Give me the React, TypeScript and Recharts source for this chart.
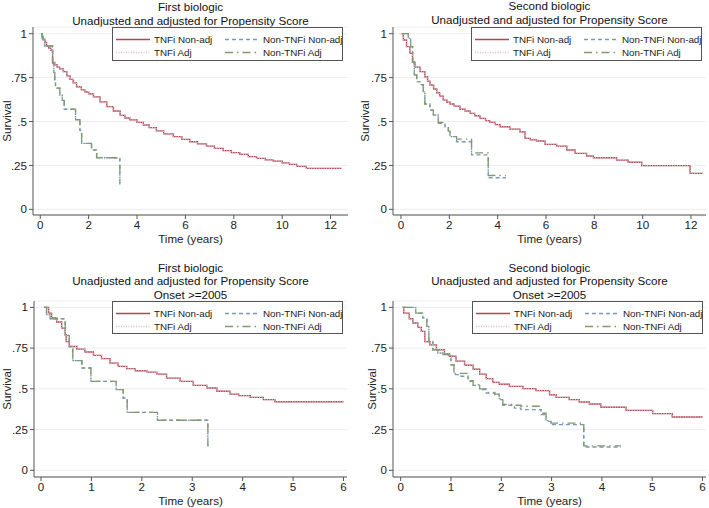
import { LineChart, Line, XAxis, YAxis, CartesianGrid, Legend } from "recharts";

type Pt = [number, number];

// Kaplan-Meier step points: [time (years), survival]
const P1_TNFI: Pt[] = [
  [0.03, 1], [0.08, 0.985], [0.12, 0.965], [0.2, 0.95], [0.26, 0.93], [0.35, 0.918],
  [0.43, 0.907], [0.51, 0.837], [0.6, 0.822], [0.7, 0.81], [0.8, 0.8], [0.95, 0.784],
  [1.1, 0.76], [1.23, 0.74], [1.36, 0.72], [1.5, 0.698], [1.7, 0.68], [1.85, 0.668],
  [2.0, 0.658], [2.2, 0.64], [2.47, 0.612], [2.75, 0.585], [3.02, 0.56], [3.3, 0.535],
  [3.5, 0.52], [3.7, 0.509], [4.0, 0.495], [4.26, 0.48], [4.5, 0.465], [4.8, 0.447],
  [5.1, 0.43], [5.5, 0.414], [5.85, 0.398], [6.18, 0.385], [6.5, 0.373], [6.87, 0.36],
  [7.2, 0.347], [7.56, 0.334], [7.9, 0.323], [8.25, 0.313], [8.6, 0.3], [8.94, 0.29],
  [9.3, 0.282], [9.63, 0.275], [10.0, 0.265], [10.3, 0.256], [10.6, 0.245], [11.0, 0.233],
  [12.45, 0.233],
];
const P1_NON: Pt[] = [
  [0.03, 1], [0.08, 0.97], [0.18, 0.93], [0.51, 0.83], [0.56, 0.78], [0.6, 0.72],
  [0.63, 0.69], [0.81, 0.65], [0.91, 0.62], [0.99, 0.57], [1.46, 0.51], [1.64, 0.45],
  [1.71, 0.376], [2.12, 0.338], [2.33, 0.294], [3.29, 0.142],
];

const P2_TNFI: Pt[] = [
  [0.02, 1], [0.1, 0.964], [0.23, 0.926], [0.37, 0.888], [0.48, 0.837], [0.58, 0.81],
  [0.79, 0.784], [0.99, 0.755], [1.1, 0.73], [1.2, 0.708], [1.35, 0.685], [1.48, 0.664],
  [1.6, 0.645], [1.75, 0.622], [1.9, 0.61], [2.03, 0.6], [2.2, 0.588], [2.44, 0.57],
  [2.65, 0.56], [2.86, 0.546], [3.05, 0.533], [3.27, 0.518], [3.5, 0.505], [3.68, 0.495],
  [3.9, 0.482], [4.1, 0.47], [4.5, 0.457], [4.92, 0.442], [5.13, 0.404], [5.35, 0.396],
  [5.61, 0.389], [5.96, 0.37], [6.44, 0.36], [6.86, 0.338], [7.2, 0.319], [7.68, 0.304],
  [7.96, 0.294], [8.92, 0.28], [9.4, 0.268], [9.96, 0.249], [11.96, 0.205], [12.5, 0.205],
];
const P2_NON: Pt[] = [
  [0.03, 1], [0.3, 0.973], [0.4, 0.926], [0.48, 0.84], [0.55, 0.765], [0.65, 0.727],
  [0.79, 0.71], [0.92, 0.67], [0.99, 0.6], [1.2, 0.565], [1.34, 0.537], [1.54, 0.49],
  [1.82, 0.47], [1.96, 0.442], [2.03, 0.414], [2.3, 0.385], [2.92, 0.31], [3.61, 0.18],
  [4.34, 0.18],
];
const P2_NON_ADJ: Pt[] = [
  [0.03, 1], [0.3, 0.973], [0.4, 0.926], [0.48, 0.84], [0.55, 0.765], [0.65, 0.727],
  [0.79, 0.71], [0.92, 0.67], [0.99, 0.6], [1.2, 0.565], [1.34, 0.537], [1.54, 0.495],
  [1.82, 0.475], [1.96, 0.445], [2.03, 0.414], [2.3, 0.4], [2.92, 0.322], [3.61, 0.193],
  [4.34, 0.193],
];

const P3_TNFI: Pt[] = [
  [0.06, 1], [0.15, 0.965], [0.21, 0.935], [0.31, 0.91], [0.41, 0.873], [0.48, 0.832],
  [0.5, 0.79], [0.56, 0.76], [0.71, 0.744], [0.87, 0.726], [1.04, 0.705], [1.2, 0.685],
  [1.37, 0.658], [1.53, 0.638], [1.7, 0.624], [1.87, 0.611], [2.1, 0.603], [2.3, 0.59],
  [2.49, 0.566], [2.76, 0.546], [3.02, 0.521], [3.29, 0.505], [3.49, 0.485], [3.75, 0.468],
  [3.92, 0.458], [4.15, 0.448], [4.41, 0.434], [4.64, 0.421], [6.0, 0.421],
];
const P3_NON: Pt[] = [
  [0.06, 1], [0.11, 0.955], [0.18, 0.93], [0.48, 0.828], [0.56, 0.76], [0.63, 0.673],
  [0.81, 0.628], [0.99, 0.546], [1.49, 0.495], [1.63, 0.444], [1.71, 0.356], [2.31, 0.307],
  [3.31, 0.147],
];

const P4_TNFI: Pt[] = [
  [0.03, 1], [0.06, 0.965], [0.17, 0.93], [0.24, 0.904], [0.34, 0.877], [0.41, 0.853],
  [0.48, 0.79], [0.58, 0.77], [0.71, 0.74], [0.87, 0.715], [0.97, 0.7], [1.1, 0.67],
  [1.27, 0.645], [1.44, 0.62], [1.57, 0.59], [1.7, 0.563], [1.83, 0.54], [1.96, 0.528],
  [2.16, 0.515], [2.43, 0.501], [2.69, 0.489], [2.96, 0.464], [3.09, 0.448], [3.35, 0.434],
  [3.55, 0.419], [3.75, 0.407], [3.98, 0.387], [4.48, 0.368], [5.01, 0.348], [5.4, 0.327],
  [6.0, 0.327],
];
const P4_NON: Pt[] = [
  [0.05, 1], [0.3, 0.965], [0.44, 0.935], [0.52, 0.883], [0.56, 0.79], [0.64, 0.74],
  [0.74, 0.72], [0.84, 0.71], [0.97, 0.69], [1.0, 0.648], [1.06, 0.587], [1.2, 0.577],
  [1.34, 0.546], [1.44, 0.521], [1.57, 0.495], [1.7, 0.474], [1.87, 0.464], [1.96, 0.434],
  [2.03, 0.399], [2.26, 0.382], [2.39, 0.372], [2.79, 0.342], [2.89, 0.3], [2.99, 0.28],
  [3.64, 0.143], [4.38, 0.143],
];
const P4_NON_ADJ: Pt[] = [
  [0.05, 1], [0.3, 0.965], [0.44, 0.935], [0.52, 0.883], [0.56, 0.79], [0.64, 0.74],
  [0.74, 0.72], [0.84, 0.71], [0.97, 0.69], [1.0, 0.648], [1.06, 0.595], [1.2, 0.595],
  [1.34, 0.55], [1.44, 0.525], [1.57, 0.5], [1.7, 0.478], [1.87, 0.468], [1.96, 0.44],
  [2.03, 0.405], [2.26, 0.399], [2.39, 0.393], [2.79, 0.35], [2.89, 0.305], [2.99, 0.29],
  [3.64, 0.15], [4.38, 0.15],
];

const Y_TICKS = [0, 0.25, 0.5, 0.75, 1];
const X_TICKS_LONG = [0, 2, 4, 6, 8, 10, 12];
const X_TICKS_SHORT = [0, 1, 2, 3, 4, 5, 6];
const TITLE_MAIN = "Unadjusted and adjusted for Propensity Score";
const TITLE_ONSET = "Onset >=2005";

const FONT = '"Liberation Sans", Arial, Helvetica, sans-serif';
const SERIES = [
  { key: "tnfi", name: "TNFi Non-adj", color: "#b04555", dash: undefined },
  { key: "non", name: "Non-TNFi Non-adj", color: "#7d98b0", dash: "4 3" },
  { key: "tnfiAdj", name: "TNFi Adj", color: "#e2bcc2", dash: "1 1.5" },
  { key: "nonAdj", name: "Non-TNFi Adj", color: "#809a6c", dash: "8 4 1.5 4" },
];

const pts = (a: Pt[]) => a.map(([t, s]) => ({ t, s }));
const fmtY = (v: number) => (v === 0 ? "0" : v === 1 ? "1" : String(v).replace(/^0/, ""));

function LegendBox({ w, h }: { w: number; h: number }) {
  const cols = [4, 113];
  const rows = [12.5, 25.5];
  return (
    <svg width={w} height={h} style={{ display: "block" }}>
      <rect x={0.5} y={0.5} width={w - 1} height={h - 1} fill="#fff" stroke="#555" />
      {SERIES.map((s, i) => {
        const x = cols[i % 2];
        const y = rows[Math.floor(i / 2)];
        return (
          <g key={s.key}>
            <path d={`M${x},${y}H${x + 34}`} stroke={s.color} strokeWidth={1.3} strokeDasharray={s.dash} fill="none" />
            <text x={x + 38} y={y} dominantBaseline="central" fontSize={9.8} fontFamily={FONT} fill="#222">
              {s.name}
            </text>
          </g>
        );
      })}
    </svg>
  );
}

type PanelProps = {
  left: number; top: number; width: number; height: number;
  yw: number; mr: number; mt: number; xh: number;
  xDomain: [number, number]; yDomain: [number, number]; xTicks: number[];
  title: string[]; titleTop: number; titleLh: number;
  legendLeft: number; legendH: number; survX: number;
  tnfi: Pt[]; non: Pt[]; tnfiAdj: Pt[]; nonAdj: Pt[];
};

function Panel(p: PanelProps) {
  const plotL = p.yw;
  const plotR = p.width - p.mr;
  const plotB = p.height - p.xh;
  const cx = (plotL + plotR) / 2;
  const cy = (p.mt + plotB) / 2;
  const data: Record<string, Pt[]> = { tnfi: p.tnfi, non: p.non, tnfiAdj: p.tnfiAdj, nonAdj: p.nonAdj };
  return (
    <div style={{ position: "absolute", left: p.left, top: p.top, width: p.width, height: p.height }}>
      <div
        style={{
          position: "absolute", left: plotL - 40, width: plotR - plotL + 80, top: p.titleTop,
          textAlign: "center", fontFamily: FONT, fontSize: 11.6, lineHeight: `${p.titleLh}px`, color: "#111",
        }}
      >
        {p.title.map((t) => (
          <div key={t}>{t}</div>
        ))}
      </div>
      <LineChart width={p.width} height={p.height} margin={{ top: p.mt, right: p.mr, bottom: 0, left: 0 }}>
        <CartesianGrid vertical={false} stroke="#ededed" />
        <XAxis
          dataKey="t" type="number" domain={p.xDomain} allowDataOverflow ticks={p.xTicks}
          height={p.xh} tickSize={4} tickMargin={2} stroke="#555"
          tick={{ fontSize: 11.6, fill: "#222", fontFamily: FONT }}
          label={{
            content: () => (
              <text x={cx} y={plotB + 23.5} textAnchor="middle" dominantBaseline="central" fontSize={11.6} fontFamily={FONT} fill="#222">
                Time (years)
              </text>
            ),
          }}
        />
        <YAxis
          type="number" domain={p.yDomain} allowDataOverflow ticks={Y_TICKS} tickFormatter={fmtY}
          width={p.yw} tickSize={4} tickMargin={2} stroke="#555"
          tick={{ fontSize: 11.6, fill: "#222", fontFamily: FONT }}
          label={{
            content: () => (
              <text
                x={p.survX} y={cy} transform={`rotate(-90 ${p.survX} ${cy})`} textAnchor="middle"
                dominantBaseline="central" fontSize={11.6} fontFamily={FONT} fill="#222"
              >
                Survival
              </text>
            ),
          }}
        />
        {SERIES.map((s) => (
          <Line
            key={s.key} name={s.name} data={pts(data[s.key])} dataKey="s" type="stepAfter"
            stroke={s.color} strokeWidth={1.35} strokeDasharray={s.dash}
            dot={false} activeDot={false} isAnimationActive={false}
          />
        ))}
        <Legend
          layout="horizontal" verticalAlign="middle" align="center"
          wrapperStyle={{ left: p.legendLeft, top: p.mt, width: 231, height: p.legendH }}
          content={() => <LegendBox w={231} h={p.legendH} />}
        />
      </LineChart>
    </div>
  );
}

export default function App() {
  return (
    <div style={{ position: "absolute", left: 0, top: 0, width: 709, height: 508, background: "#fff", overflow: "hidden" }}>
      <Panel
        left={0} top={0} width={354} height={254} yw={33} mr={6} mt={27} xh={39}
        xDomain={[-0.3, 12.72]} yDomain={[-0.032, 1.038]} xTicks={X_TICKS_LONG}
        title={["First biologic", TITLE_MAIN]} titleTop={0} titleLh={14}
        legendLeft={112} legendH={34} survX={6}
        tnfi={P1_TNFI} non={P1_NON} tnfiAdj={P1_TNFI} nonAdj={P1_NON}
      />
      <Panel
        left={354} top={0} width={355} height={254} yw={39} mr={3} mt={27} xh={39}
        xDomain={[-0.33, 12.62]} yDomain={[-0.032, 1.038]} xTicks={X_TICKS_LONG}
        title={["Second biologic", TITLE_MAIN]} titleTop={-1} titleLh={14}
        legendLeft={117} legendH={34} survX={10}
        tnfi={P2_TNFI} non={P2_NON} tnfiAdj={P2_TNFI} nonAdj={P2_NON_ADJ}
      />
      <Panel
        left={0} top={254} width={354} height={254} yw={34} mr={7} mt={47} xh={31}
        xDomain={[-0.139, 6.07]} yDomain={[-0.041, 1.039]} xTicks={X_TICKS_SHORT}
        title={["First biologic", TITLE_MAIN, TITLE_ONSET]} titleTop={6.5} titleLh={13.7}
        legendLeft={112} legendH={33} survX={6.5}
        tnfi={P3_TNFI} non={P3_NON} tnfiAdj={P3_TNFI} nonAdj={P3_NON}
      />
      <Panel
        left={354} top={254} width={355} height={254} yw={39} mr={3} mt={47} xh={31}
        xDomain={[-0.153, 6.07]} yDomain={[-0.041, 1.039]} xTicks={X_TICKS_SHORT}
        title={["Second biologic", TITLE_MAIN, TITLE_ONSET]} titleTop={6.5} titleLh={13.7}
        legendLeft={118} legendH={33} survX={17}
        tnfi={P4_TNFI} non={P4_NON} tnfiAdj={P4_TNFI} nonAdj={P4_NON_ADJ}
      />
    </div>
  );
}
